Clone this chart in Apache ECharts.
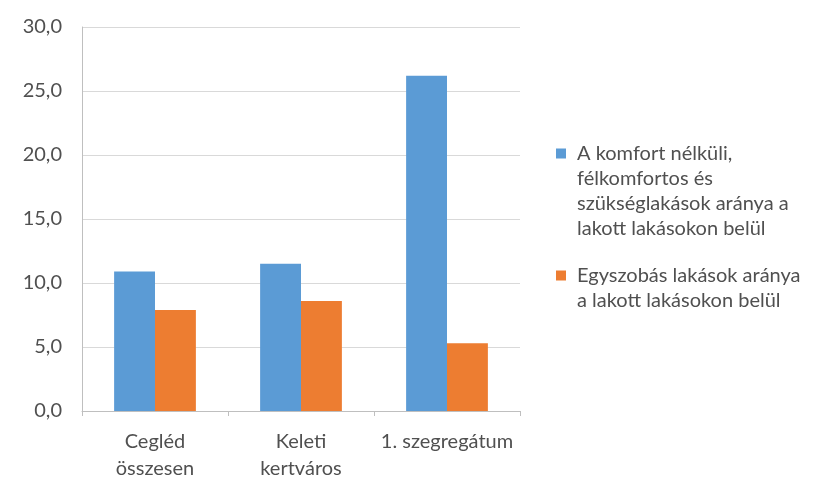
<!DOCTYPE html>
<html>
<head>
<meta charset="utf-8">
<script src="https://cdn.jsdelivr.net/npm/echarts@6/dist/echarts.min.js"></script>
<style>
  html, body { margin: 0; padding: 0; background: #fff; }
  #chart { width: 815px; height: 482px; }
</style>
</head>
<body>
<div id="chart"></div>
<script>
// kategóriák és értékek (%)
const categories = ['Cegléd\nösszesen', 'Keleti\nkertváros', '1. szegregátum'];
const komfortNelkuli = [10.9, 11.5, 26.2];
const egyszobas = [7.9, 8.6, 5.3];
const seriesNames = [
  'A komfort nélküli, félkomfortos és szükséglakások aránya a lakott lakásokon belül',
  'Egyszobás lakások aránya a lakott lakásokon belül'
];
// jelmagyarázat sortörései
const legendLines = [
  ['A komfort nélküli,', 'félkomfortos és', 'szükséglakások aránya a', 'lakott lakásokon belül'],
  ['Egyszobás lakások aránya', 'a lakott lakásokon belül']
];
const colors = ['#5B9BD5', '#ED7D31'];

const font = 'Lato, "Open Sans", sans-serif';
const textColor = '#505050';
const fs = 20;

let myChart = echarts.init(document.getElementById('chart'));
let option = {
  animation: false,
  color: colors,
  grid: { left: 82, right: 295, top: 27, bottom: 68, containLabel: false },
  legend: {
    orient: 'vertical',
    left: 546,
    top: 136,
    padding: 5,
    icon: 'none',
    itemWidth: 0,
    itemHeight: 10,
    itemGap: 22,
    selectedMode: false,
    data: seriesNames,
    formatter: function (name) {
      const idx = seriesNames.indexOf(name);
      const box = idx === 0 ? 'b' : 'o';
      return legendLines[idx].map(function (line, i) {
        return i === 0 ? '{' + box + '| }{t|' + line + '}' : '{s|' + line + '}';
      }).join('\n');
    },
    textStyle: {
      fontFamily: font,
      fontSize: fs,
      color: textColor,
      lineHeight: 25,
      rich: {
        b: { width: 10, height: 10, backgroundColor: colors[0], lineHeight: 25 },
        o: { width: 10, height: 10, backgroundColor: colors[1], lineHeight: 25 },
        t: { fontFamily: font, fontSize: fs, color: textColor, lineHeight: 25, padding: [0, 0, 0, 11] },
        s: { fontFamily: font, fontSize: fs, color: textColor, lineHeight: 25, padding: [0, 0, 0, 21] }
      }
    }
  },
  xAxis: {
    type: 'category',
    data: categories,
    axisLine: { lineStyle: { color: '#BFBFBF', width: 1 } },
    axisTick: { show: true, length: 5, lineStyle: { color: '#BFBFBF' } },
    axisLabel: {
      fontFamily: font,
      fontSize: fs,
      color: textColor,
      lineHeight: 27,
      margin: 17,
      interval: 0
    }
  },
  yAxis: {
    type: 'value',
    min: 0,
    max: 30,
    interval: 5,
    axisLine: { show: true, lineStyle: { color: '#BFBFBF', width: 1 } },
    axisTick: { show: false },
    splitLine: { lineStyle: { color: '#D9D9D9', width: 1 } },
    axisLabel: {
      fontFamily: font,
      fontSize: fs,
      color: textColor,
      margin: 20,
      formatter: function (v) { return v.toFixed(1).replace('.', ','); }
    }
  },
  series: [
    {
      name: seriesNames[0],
      type: 'bar',
      barGap: '0%',
      barCategoryGap: '44%',
      data: komfortNelkuli
    },
    {
      name: seriesNames[1],
      type: 'bar',
      barGap: '0%',
      barCategoryGap: '44%',
      data: egyszobas
    }
  ]
};
myChart.setOption(option);
</script>
</body>
</html>
